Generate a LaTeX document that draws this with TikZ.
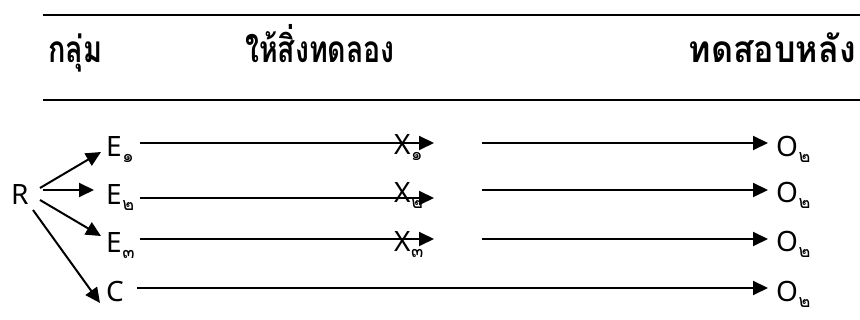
\documentclass[tikz,border=0pt]{standalone}
\usepackage{fontspec}
\usepackage{graphicx}
\setmainfont{Noto Sans}
\newfontfamily\thaifont[Script=Thai]{Loma}
\usetikzlibrary{arrows.meta}
\newcommand{\lbl}[2]{#1\kern0.5pt\raisebox{-6pt}{\thaifont\fontsize{18}{18}\selectfont #2}}
\tikzset{
  rule/.style={line width=2pt},
  conn/.style={line width=2pt,-{Triangle[length=15pt,width=14pt]}},
  lab/.style={inner sep=0pt,anchor=base west,font=\fontsize{28}{28}\selectfont},
  head/.style={inner sep=0pt,anchor=base,font=\thaifont\bfseries\fontsize{37}{37}\selectfont}
}
\begin{document}
\begin{tikzpicture}[x=1pt,y=-1pt]
\useasboundingbox (0,0) rectangle (860,320);
% header rules
\coordinate (t1) at (43,15); \coordinate (t2) at (860,15);
\coordinate (b1) at (43,100); \coordinate (b2) at (860,100);
\draw[rule] (t1) -- (t2);
\draw[rule] (b1) -- (b2);
\node[head,anchor=base west] (h1) at (48,63) {\scalebox{0.78}[1]{กลุ่ม}};
\node[head] (h2) at (320,63) {\scalebox{0.77}[1]{ให้สิ่งทดลอง}};
\node[head,anchor=base east] (h3) at (856,63) {\scalebox{0.92}[1]{ทดสอบหลัง}};
% labels
\node[lab] (R) at (11,205) {R};
\node[lab] (E1) at (106,157) {\lbl{E}{๑}};
\node[lab] (E2) at (106,205) {\lbl{E}{๒}};
\node[lab] (E3) at (106,253) {\lbl{E}{๓}};
\node[lab] (C) at (106,302) {C};
\node[lab] (X1) at (394,155) {\lbl{X}{๑}};
\node[lab] (X2) at (394,203) {\lbl{X}{๒}};
\node[lab] (X3) at (394,252) {\lbl{X}{๓}};
\node[lab] (O1) at (776,157) {\lbl{O}{๒}};
\node[lab] (O2) at (776,203) {\lbl{O}{๒}};
\node[lab] (O3) at (776,252) {\lbl{O}{๒}};
\node[lab] (O4) at (776,302) {\lbl{O}{๒}};
% R arrows
\coordinate (r1) at (40,188); \coordinate (e1t) at (101,152);
\coordinate (r2) at (43,190); \coordinate (e2t) at (94,190);
\coordinate (r3) at (40,200); \coordinate (e3t) at (101,236);
\coordinate (r4) at (33,210); \coordinate (ct) at (100,303);
\draw[conn] (r1) -- (e1t);
\draw[conn] (r2) -- (e2t);
\draw[conn] (r3) -- (e3t);
\draw[conn] (r4) -- (ct);
% E to X
\coordinate (s1) at (140,143); \coordinate (x1t) at (434,143);
\coordinate (s2) at (140,198); \coordinate (x2t) at (434,198);
\coordinate (s3) at (140,239); \coordinate (x3t) at (434,239);
\draw[conn] (s1) -- (x1t);
\draw[conn] (s2) -- (x2t);
\draw[conn] (s3) -- (x3t);
% to O
\coordinate (p1) at (482,143); \coordinate (o1t) at (768,143);
\coordinate (p2) at (482,190); \coordinate (o2t) at (768,190);
\coordinate (p3) at (482,239); \coordinate (o3t) at (768,239);
\coordinate (p4) at (137,288); \coordinate (o4t) at (768,288);
\draw[conn] (p1) -- (o1t);
\draw[conn] (p2) -- (o2t);
\draw[conn] (p3) -- (o3t);
\draw[conn] (p4) -- (o4t);
\end{tikzpicture}
\end{document}
